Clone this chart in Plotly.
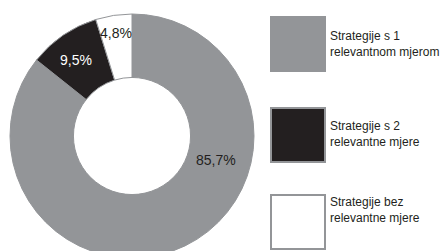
import plotly.graph_objects as go

categories = ["Strategije s 1<br>relevantnom mjerom",
              "Strategije s 2<br>relevantne mjere",
              "Strategije bez<br>relevantne mjere"]
values = [85.7, 9.5, 4.8]
value_labels = ["85,7%", "9,5%", "4,8%"]
colors = ["#939598", "#231f20", "#ffffff"]
text_colors = ["#231f20", "#ffffff", "#231f20"]

FONT = "Liberation Sans, Arial, sans-serif"
W, H = 448, 251

# layout positions (figure pixels from top-left)
label_pos = [(208, 152), (68, 52), (108, 25)]
leg_x = [290, 290, 290]
leg_y = [36, 127, 214]
leg_text_y = [36, 126, 202]

fig = go.Figure()

r = 122
cx, cy = 124, 128
fig.add_trace(go.Pie(
    values=values, labels=categories, textinfo="none",
    marker=dict(colors=colors, line=dict(color="#939598", width=1)),
    hole=0.48, sort=False, direction="clockwise", rotation=0,
    domain=dict(x=[(cx - r) / W, (cx + r) / W],
                y=[(H - cy - r) / H, (H - cy + r) / H]),
    showlegend=False, hoverinfo="skip",
))

for (px, py), lab, tc in zip(label_pos, value_labels, text_colors):
    fig.add_annotation(x=px, y=py, text=lab, showarrow=False,
                       xanchor="center", yanchor="middle",
                       font=dict(family=FONT, size=14, color=tc))

fig.add_trace(go.Scatter(
    x=leg_x, y=leg_y, mode="markers",
    marker=dict(symbol="square", size=54, color=colors,
                line=dict(color="#939598", width=2)),
    showlegend=False, hoverinfo="skip",
))
for lx, ly, cat in zip(leg_x, leg_text_y, categories):
    fig.add_annotation(x=lx + 30, y=ly, text=cat, showarrow=False,
                       xanchor="left", yanchor="middle", align="left",
                       font=dict(family=FONT, size=12, color="#231f20"))

fig.update_layout(
    width=W, height=H,
    margin=dict(l=0, r=0, t=0, b=0),
    paper_bgcolor="white", plot_bgcolor="white",
    xaxis=dict(range=[0, W], visible=False, fixedrange=True),
    yaxis=dict(range=[H, 0], visible=False, fixedrange=True),
)

fig.write_html("out.html")
